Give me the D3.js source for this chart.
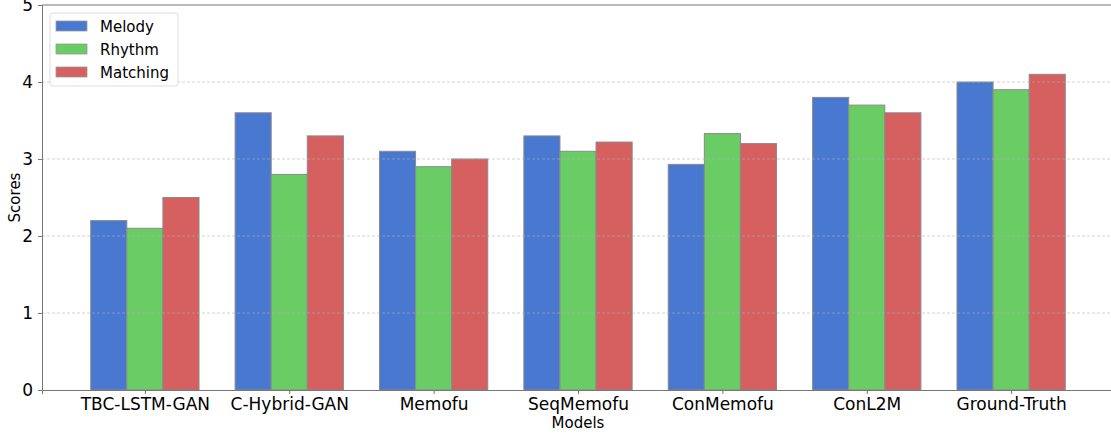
<!DOCTYPE html>
<html>
<head>
<meta charset="utf-8">
<script src="https://cdn.jsdelivr.net/npm/d3@7"></script>
<style>
  body { margin: 0; background: #fff; }
  svg, svg text { font-family: "DejaVu Sans", sans-serif; }
</style>
</head>
<body>
<svg width="1111" height="436"></svg>
<script>
const width = 1111;
const height = 436;

const models = ["TBC-LSTM-GAN", "C-Hybrid-GAN", "Memofu", "SeqMemofu", "ConMemofu", "ConL2M", "Ground-Truth"];
const series = ["Melody", "Rhythm", "Matching"];
const melody = [2.2, 3.6, 3.1, 3.3, 2.93, 3.8, 4.0];
const rhythm = [2.1, 2.8, 2.9, 3.1, 3.33, 3.7, 3.9];
const matching = [2.5, 3.3, 3.0, 3.22, 3.2, 3.6, 4.1];
const yTicks = [0, 1, 2, 3, 4, 5];

const colorMap = {
  Melody: "#4878cf",
  Rhythm: "#6acc65",
  Matching: "#d65f5f"
};

const values = { Melody: melody, Rhythm: rhythm, Matching: matching };

const margin = { left: 42, top: 5, right: -3, bottom: 46 };
const svg = d3.select("svg");

// matplotlib style categorical axis: bars of width 0.25, 5% margin
const barW = 0.25;
const x = d3.scaleLinear()
  .domain([-0.7125, models.length - 1 + 0.7125])
  .range([margin.left, width - margin.right]);

const y = d3.scaleLinear()
  .domain([0, 5])
  .range([height - margin.bottom, margin.top]);

const rows = [];
models.forEach((m, i) => {
  series.forEach((s, j) => {
    rows.push({ model: m, series: s, i: i, j: j, value: values[s][i] });
  });
});

// bars
svg.append("g")
  .selectAll("rect")
  .data(rows)
  .join("rect")
  .attr("x", d => x(d.i + (d.j - 1) * barW - barW / 2))
  .attr("width", d => x(barW) - x(0))
  .attr("y", d => y(d.value))
  .attr("height", d => y(0) - y(d.value))
  .attr("fill", d => colorMap[d.series])
  .attr("stroke", "#8a8a8a")
  .attr("stroke-width", 1);

// grid on top of bars
svg.append("g")
  .selectAll("line")
  .data(yTicks.filter(t => t > 0 && t < 5))
  .join("line")
  .attr("x1", margin.left)
  .attr("x2", width)
  .attr("y1", d => y(d))
  .attr("y2", d => y(d))
  .attr("stroke", "#b0b0b0")
  .attr("stroke-opacity", 0.7)
  .attr("stroke-width", 0.8)
  .attr("stroke-dasharray", "3,2");

// axes
const yAxis = svg.append("g")
  .attr("transform", `translate(${margin.left},0)`)
  .call(d3.axisLeft(y).tickValues(yTicks).tickSize(4).tickPadding(5).tickFormat(d3.format("d")));
yAxis.attr("font-family", null);
yAxis.select(".domain").attr("stroke", "#777");
yAxis.selectAll(".tick line").attr("stroke", "#777");
yAxis.selectAll("text").style("font-size", "17px").attr("fill", "#000");

const xAxis = svg.append("g")
  .attr("transform", `translate(0,${y(0)})`)
  .call(d3.axisBottom(x).tickValues(d3.range(models.length)).tickSize(4).tickPadding(4).tickFormat(i => models[i]));
xAxis.attr("font-family", null);
xAxis.select(".domain").attr("stroke", "#777");
xAxis.selectAll(".tick line").attr("stroke", "#777");
xAxis.selectAll("text").style("font-size", "17px").attr("fill", "#000");

// top spine
svg.append("line")
  .attr("x1", margin.left).attr("x2", width)
  .attr("y1", y(5)).attr("y2", y(5))
  .attr("stroke", "#777");

// axis titles
svg.append("text")
  .attr("transform", `translate(20,${(y(0) + y(5)) / 2}) rotate(-90)`)
  .attr("text-anchor", "middle")
  .style("font-size", "15px")
  .text("Scores");

svg.append("text")
  .attr("x", (x.range()[0] + x.range()[1]) / 2)
  .attr("y", 428)
  .attr("text-anchor", "middle")
  .style("font-size", "15px")
  .text("Models");

// legend
const legend = svg.append("g").attr("transform", "translate(50,13)");
legend.append("rect")
  .attr("width", 128)
  .attr("height", 73)
  .attr("rx", 3)
  .attr("fill", "#fff")
  .attr("fill-opacity", 0.85)
  .attr("stroke", "#ddd");

const item = legend.selectAll("g.item")
  .data(series)
  .join("g")
  .attr("class", "item")
  .attr("transform", (d, i) => `translate(6,${8 + i * 23})`);

item.append("rect")
  .attr("width", 31)
  .attr("height", 10)
  .attr("fill", d => colorMap[d])
  .attr("stroke", "#999")
  .attr("stroke-width", 0.8);

item.append("text")
  .attr("x", 44)
  .attr("y", 10.5)
  .style("font-size", "15px")
  .text(d => d);
</script>
</body>
</html>
